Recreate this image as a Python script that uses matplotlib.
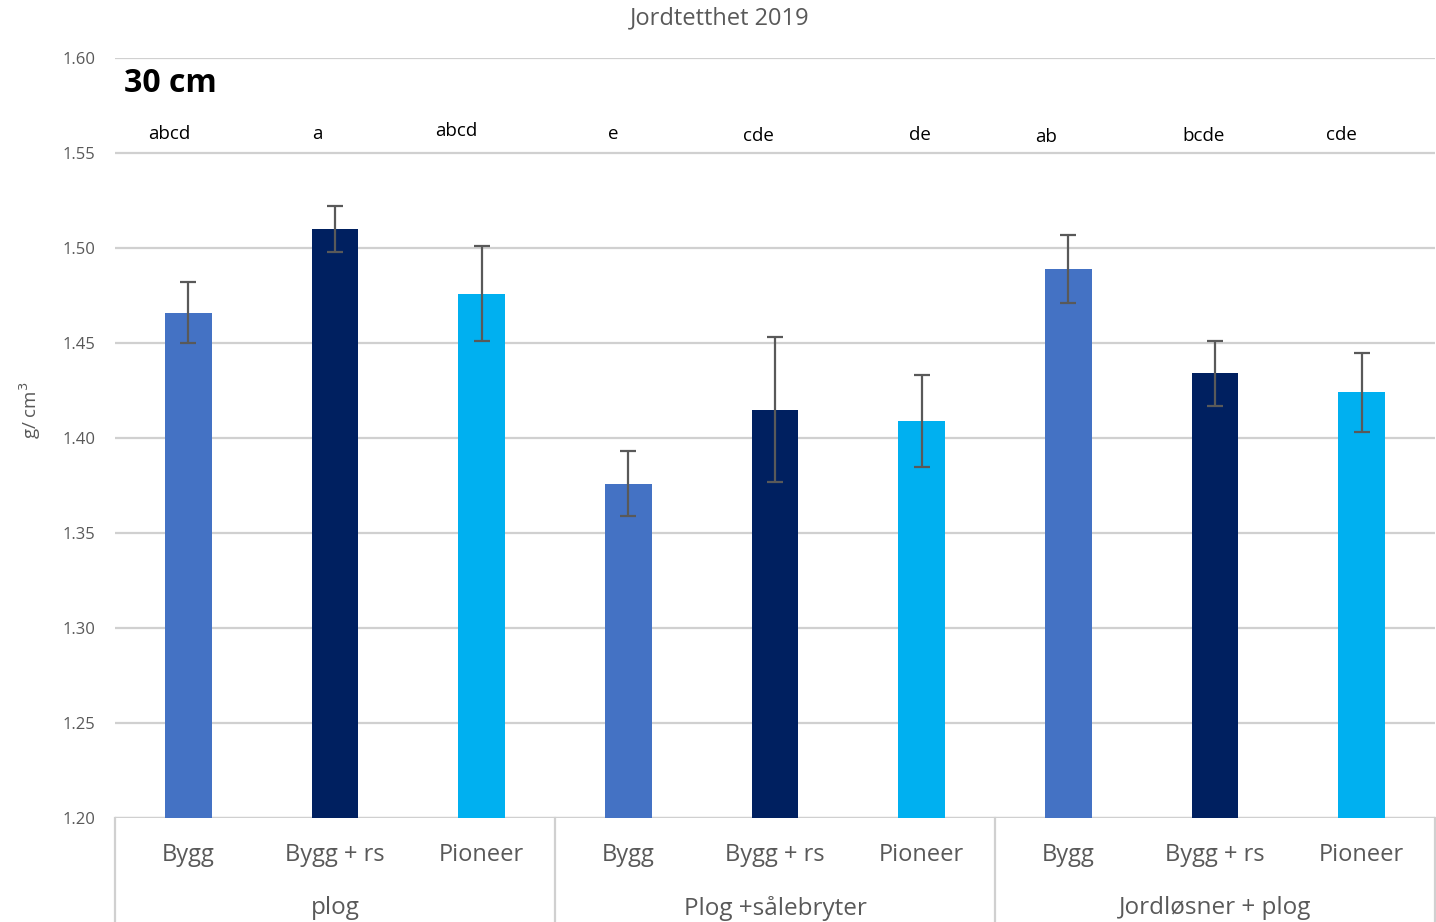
"""Jordtetthet 2019, 30 cm: stolpediagram med feilstolper og gruppert x-akse."""

import matplotlib.pyplot as plt
import matplotlib.transforms as mtransforms
import numpy as np

plt.rcParams["font.family"] = ["Open Sans", "DejaVu Sans"]

# data
groups = ["plog", "Plog +sålebryter", "Jordløsner + plog"]
varieties = ["Bygg", "Bygg + rs", "Pioneer"]
density = [1.466, 1.510, 1.476, 1.376, 1.415, 1.409, 1.489, 1.434, 1.424]
err_low = [0.016, 0.012, 0.025, 0.017, 0.038, 0.024, 0.018, 0.017, 0.021]
err_high = [0.016, 0.012, 0.025, 0.017, 0.038, 0.024, 0.018, 0.017, 0.021]
letters = ["abcd", "a", "abcd", "e", "cde", "de", "ab", "bcde", "cde"]
letter_shift = [-0.13, -0.12, -0.17, -0.10, -0.11, -0.01, -0.15, -0.08, -0.14]
letter_y = [1.560, 1.560, 1.5615, 1.560, 1.559, 1.5595, 1.5585, 1.559, 1.5595]
colors = ["#4472C4", "#002060", "#00B0F0"]

GRAY = "#595959"
GRID = "#D0D0D0"

fig = plt.figure(figsize=(14.36, 9.22), dpi=100)
ax = fig.add_axes([115 / 1436, 1 - 818 / 922, 1320 / 1436, 760 / 922])

x = np.arange(len(density))
bar_colors = [colors[i % 3] for i in range(len(density))]
ax.bar(x, np.array(density) - 1.2, bottom=1.2, width=0.32, color=bar_colors, zorder=3)
ax.errorbar(x, density, yerr=[err_low, err_high], fmt="none", ecolor=GRAY,
            elinewidth=1.6, capsize=6, capthick=1.6, zorder=4)

ax.set_xlim(-0.5, len(density) - 0.5)
ax.set_ylim(1.2, 1.6)
ax.set_yticks(np.arange(1.20, 1.601, 0.05))
ax.set_yticklabels([f"{v:.2f}" for v in np.arange(1.20, 1.601, 0.05)])
ax.yaxis.grid(True, color=GRID, linewidth=1.6, zorder=0)
ax.set_axisbelow(True)
ax.tick_params(axis="y", length=0, pad=14, labelsize=12, labelcolor=GRAY)
ax.set_xticks([])
for side in ["top", "right", "left", "bottom"]:
    ax.spines[side].set_visible(False)
ax.axhline(1.2, color=GRID, linewidth=1.6, zorder=2)

# gruppert kategoriakse
trans = mtransforms.blended_transform_factory(ax.transData, ax.transAxes)
for xv in [-0.5, 2.5, 5.5, 8.5]:
    ax.plot([xv, xv], [0, -0.14], color=GRID, linewidth=1.6, transform=trans, clip_on=False)
for i in x:
    ax.text(i, -0.049, varieties[i % 3], transform=trans, ha="center", va="center",
            fontsize=17, color=GRAY)
for g, name in enumerate(groups):
    ax.text(3 * g + 1, -0.119, name, transform=trans, ha="center", va="center",
            fontsize=17.5, color=GRAY)

# signifikansbokstaver
for i in x:
    ax.text(i + letter_shift[i], letter_y[i], letters[i], ha="center", va="center",
            fontsize=13.5, color="black")

ax.text(124 / 1436, 1 - 83 / 922, "30 cm", transform=fig.transFigure, ha="left",
        va="center", fontsize=23, fontweight="bold", color="black")
fig.text(720 / 1436, 1 - 18 / 922, "Jordtetthet 2019", ha="center", va="center",
         fontsize=17, color=GRAY)
fig.text(30 / 1436, 1 - 410 / 922, "g/ cm$^3$", rotation=90, ha="center", va="center",
         fontsize=13.5, color=GRAY)

fig.savefig("out.png", dpi=100)
